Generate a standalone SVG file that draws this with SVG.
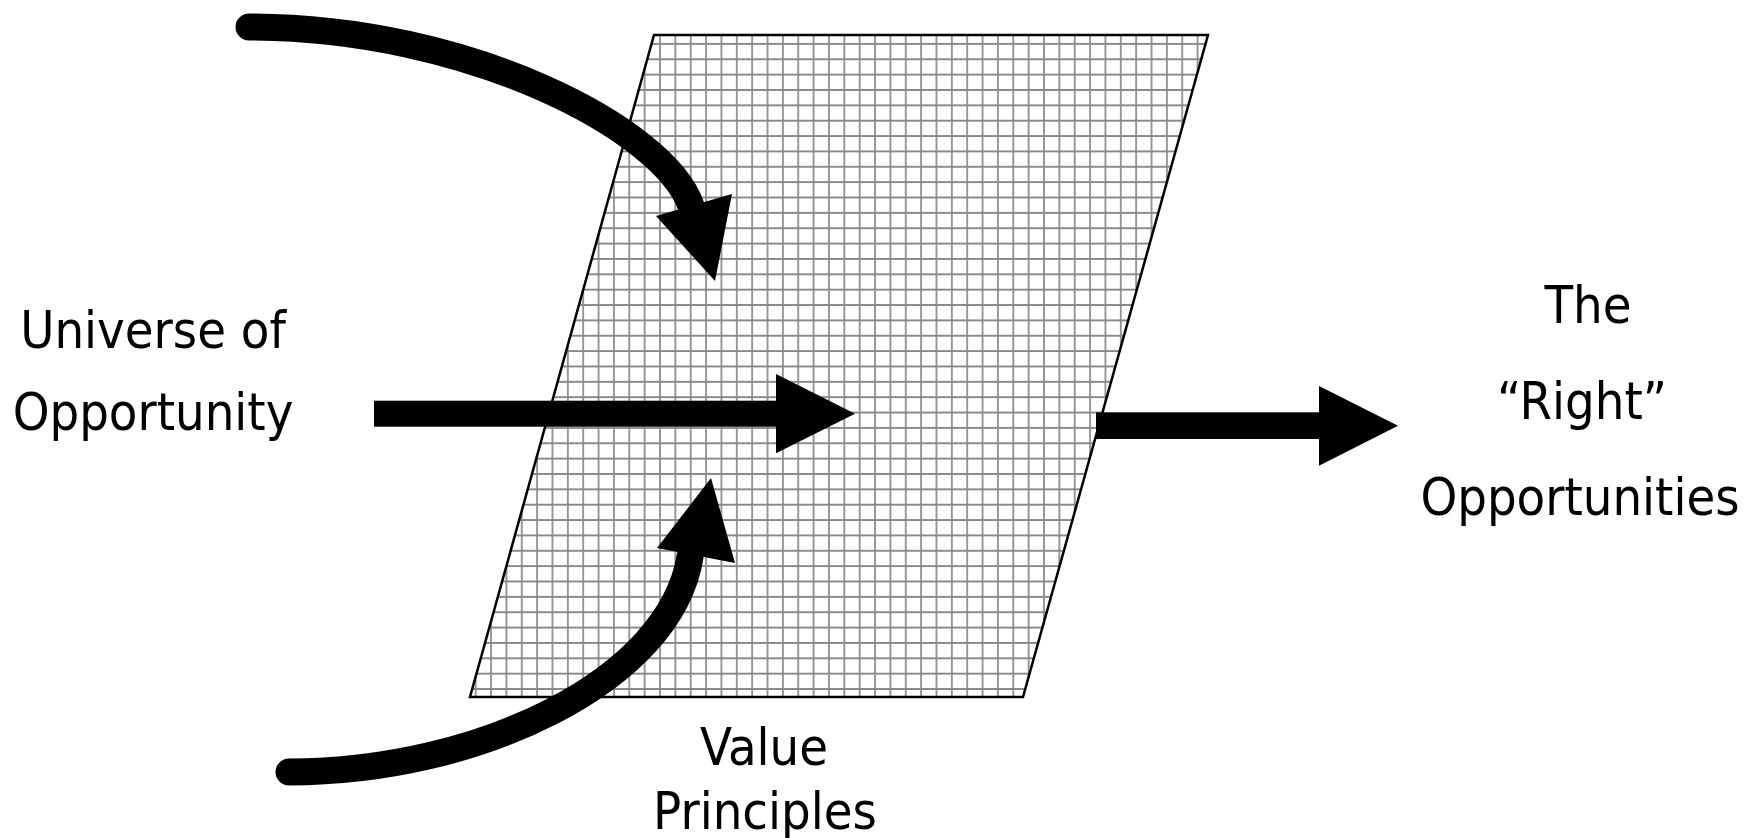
<svg xmlns="http://www.w3.org/2000/svg" width="1745" height="838" viewBox="0 0 1745 838">
  <style>
    .lbl { font-family: "DejaVu Sans Condensed", "DejaVu Sans", sans-serif; font-size: 52px; fill: #000; text-anchor: middle; }
    .shaft { fill: none; stroke: #000; stroke-width: 27; }
    .solid { fill: #000; stroke: none; }
  </style>
  <defs>
    <pattern id="grid" patternUnits="userSpaceOnUse" x="652.32" y="36.22" width="15.36" height="15.36">
      <rect width="15.36" height="15.36" fill="#fff"/>
      <path d="M7.68,0 V15.36 M0,7.68 H15.36" stroke="#888" stroke-width="1.7" fill="none"/>
    </pattern>
  </defs>
  <rect width="1745" height="838" fill="#fff"/>

  <g id="value-principles-filter">
    <polygon points="654,35 1208,35 1023,697 470,697" fill="url(#grid)" stroke="#000" stroke-width="2.5"/>
  </g>

  <g id="connectors">
    <path class="shaft" d="M249,27 C470,27 665,130 691,206" stroke-linecap="round"/>
    <polygon class="solid" points="656,216 732,194 715,281"/>

    <rect class="solid" x="374" y="400.7" width="403" height="26"/>
    <polygon class="solid" points="776,374 855,413.7 776,453.3"/>

    <path class="shaft" d="M289,772 C480,772 670,680 690,557" stroke-linecap="round"/>
    <polygon class="solid" points="657,548 735,563 711,478"/>

    <rect class="solid" x="1096" y="412.3" width="224" height="26.7"/>
    <polygon class="solid" points="1319,386 1398,425.7 1319,465.7"/>
  </g>

  <g id="universe-of-opportunity">
    <text class="lbl" x="153" y="348">Universe of</text>
    <text class="lbl" x="153" y="430">Opportunity</text>
  </g>

  <g id="right-opportunities">
    <text class="lbl" x="1588" y="323">The</text>
    <text class="lbl" x="1582" y="419">“Right”</text>
    <text class="lbl" x="1580" y="515">Opportunities</text>
  </g>

  <g id="value-principles">
    <text class="lbl" x="764" y="765">Value</text>
    <text class="lbl" x="765" y="829">Principles</text>
  </g>
</svg>
